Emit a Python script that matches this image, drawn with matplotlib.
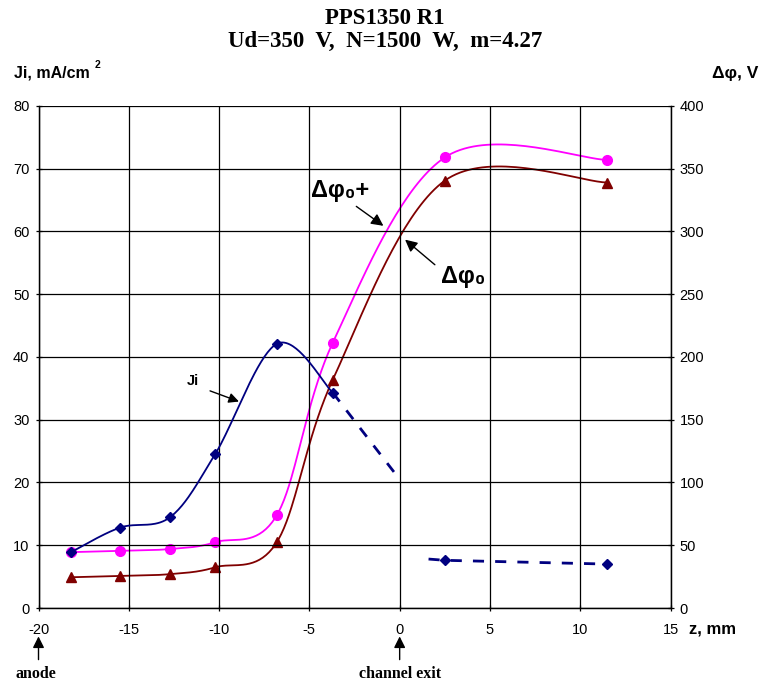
import numpy as np
import matplotlib
matplotlib.use("Agg")
import matplotlib.pyplot as plt
from matplotlib.patches import FancyArrowPatch

# Measured profiles along the thruster axis
z = [-18.2, -15.5, -12.7, -10.2, -6.8, -3.7, 2.5, 11.5]
ji_z = [-18.2, -15.5, -12.7, -10.2, -6.8, -3.7]
ji = [8.9, 12.8, 14.5, 24.6, 42.1, 34.3]
ji_ext_z = [-3.7, 0.0]
ji_ext = [34.3, 20.5]
ji_far_z = [1.6, 2.5, 11.5]
ji_far = [7.8, 7.6, 7.0]
ji_far_pts_z = [2.5, 11.5]
ji_far_pts = [7.6, 7.0]
dphi_plus = [44.5, 45.5, 47.0, 52.5, 74.0, 211.5, 359.0, 357.0]   # V
dphi = [24.5, 25.5, 27.0, 32.5, 52.5, 182.0, 340.5, 339.0]        # V

x_ticks = [-20, -15, -10, -5, 0, 5, 10, 15]
left_ticks = [0, 10, 20, 30, 40, 50, 60, 70, 80]
right_ticks = [0, 50, 100, 150, 200, 250, 300, 350, 400]


def smooth(xs, ys, n=40):
    """Bezier smoothing with Catmull-Rom style control points."""
    p = np.column_stack([xs, ys]).astype(float)
    out = [p[0]]
    t = np.linspace(0, 1, n)[1:, None]
    for i in range(len(p) - 1):
        p0 = p[i]
        p3 = p[i + 1]
        prev = p[i - 1] if i > 0 else p[i]
        nxt = p[i + 2] if i + 2 < len(p) else p[i + 1]
        c1 = p0 + (p3 - prev) / 6.0
        c2 = p3 - (nxt - p0) / 6.0
        seg = ((1 - t) ** 3) * p0 + 3 * ((1 - t) ** 2) * t * c1 \
            + 3 * (1 - t) * t ** 2 * c2 + t ** 3 * p3
        out.extend(seg)
    out = np.array(out)
    return out[:, 0], out[:, 1]


plt.rcParams['font.family'] = ['Liberation Sans', 'DejaVu Sans']
plt.rcParams['axes.unicode_minus'] = False
fig = plt.figure(figsize=(7.61, 6.85), dpi=100)
ax = fig.add_axes([0.0506, 0.1124, 0.8305, 0.7329])
ax2 = ax.twinx()

navy = '#000080'
magenta = '#ff00ff'
darkred = '#800000'

# Right axis curves
sx, sy = smooth(z, dphi_plus)
ax2.plot(sx, sy, color=magenta, lw=1.3, zorder=3)
ax2.plot(z, dphi_plus, 'o', color=magenta, ms=7, zorder=4)
sx, sy = smooth(z, dphi)
ax2.plot(sx, sy, color=darkred, lw=1.3, zorder=3)
ax2.plot(z, dphi, '^', color=darkred, ms=7, zorder=4)

# Ion current density on the left axis, drawn above the twin axis
ax.set_zorder(ax2.get_zorder() + 1)
ax.patch.set_visible(False)
sx, sy = smooth(ji_z, ji)
ax.plot(sx, sy, color=navy, lw=1.3, zorder=3)
ax.plot(ji_z, ji, 'D', color=navy, ms=5, zorder=4)
ax.plot(ji_ext_z, ji_ext, '--', color=navy, lw=2, dashes=(4, 4), zorder=3)
ax.plot(ji_far_z, ji_far, '--', color=navy, lw=2, dashes=(4, 4), zorder=3)
ax.plot(ji_far_pts_z, ji_far_pts, 'D', color=navy, ms=5, zorder=4)

ax.set_xlim(-20, 15)
ax.set_ylim(0, 80)
ax2.set_ylim(0, 400)
ax.set_xticks(x_ticks)
ax.set_yticks(left_ticks)
ax2.set_yticks(right_ticks)
ax.grid(True, color='black', lw=0.9)
for a in (ax, ax2):
    a.tick_params(labelsize=10.5, length=5, width=0.9, direction='inout', colors='black')
    for s in a.spines.values():
        s.set_color('black')
        s.set_linewidth(0.9)
    a.spines['top'].set_visible(False)
ax.tick_params(axis='x', pad=8)
ax.tick_params(axis='y', pad=4)
ax2.tick_params(axis='y', pad=4)

# Title
fig.text(0.506, 0.988, 'PPS1350 R1', ha='center', va='top', fontsize=16.5,
         fontweight='bold', family='Liberation Serif')
fig.text(0.506, 0.955, 'Ud=350  V,  N=1500  W,  m=4.27', ha='center', va='top',
         fontsize=16.5, fontweight='bold', family='Liberation Serif')

# Axis captions
fig.text(0.018, 0.883, 'Ji, mA/cm', ha='left', va='bottom', fontsize=11.5, fontweight='bold')
fig.text(0.124, 0.898, '2', ha='left', va='bottom', fontsize=7.5, fontweight='bold')
fig.text(0.997, 0.882, 'Δφ, V', ha='right', va='bottom', fontsize=12.5, fontweight='bold')
fig.text(0.905, 0.071, 'z, mm', ha='left', va='bottom', fontsize=12, fontweight='bold')


def pointer(tail, head, scale=18):
    ax.add_patch(FancyArrowPatch(tail, head, arrowstyle='-|>', color='black', lw=1,
                                 mutation_scale=scale, shrinkA=0, shrinkB=0, zorder=6))


# Curve labels with pointers
ax.text(-4.9, 66.5, 'Δφ₀+', fontsize=17, fontweight='bold', ha='left', va='center')
pointer((-2.4, 64.0), (-0.9, 60.9))
ax.text(2.3, 52.8, 'Δφ₀', fontsize=17, fontweight='bold', ha='left', va='center')
pointer((1.95, 54.7), (0.3, 58.7))
ax.text(-11.8, 36.2, 'Ji', fontsize=10.5, fontweight='bold', ha='left', va='center')
pointer((-10.5, 34.6), (-8.9, 32.9), scale=15)

# Location markers below the axis
for xv, label, xt, ha in ((-20, 'anode', 0.02, 'left'), (0, 'channel exit', None, 'center')):
    xf = ax.transData.transform((xv, 0))[0] / fig.bbox.width
    fig.text(xt if xt is not None else xf, 0.005, label, ha=ha, va='bottom', fontsize=11.5,
             fontweight='bold', family='Liberation Serif')
    fig.add_artist(FancyArrowPatch((xf, 0.033), (xf, 0.075), transform=fig.transFigure,
                                   arrowstyle='-|>', mutation_scale=17, color='black', lw=1))

fig.savefig('out.png', dpi=100)
